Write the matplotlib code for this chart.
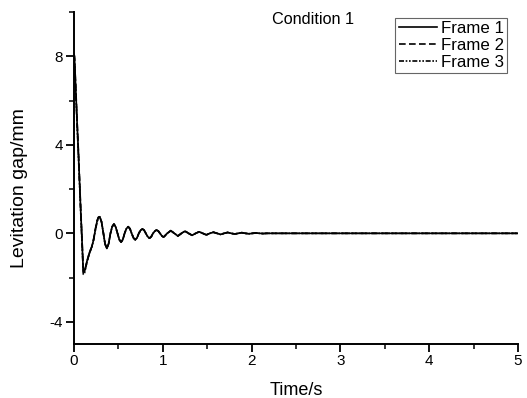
import numpy as np
import matplotlib.pyplot as plt

plt.rcParams['font.family'] = ['Liberation Sans', 'DejaVu Sans']
plt.rcParams['axes.unicode_minus'] = False

# early transient (drop and first rise) for each frame
t_early = [0.0, 0.005, 0.02, 0.035, 0.05, 0.065, 0.075, 0.09, 0.105, 0.12, 0.14,
           0.16, 0.18, 0.20, 0.22, 0.24, 0.26, 0.275]
y1_early = [8.1, 8.0, 6.5, 5.0, 3.6, 2.1, 1.1, -0.3, -1.75, -1.7, -1.35,
            -1.05, -0.8, -0.62, -0.3, 0.15, 0.55, 0.72]
y2_early = [8.1, 8.0, 6.6, 5.1, 3.7, 2.2, 1.2, -0.2, -1.7, -1.72, -1.4,
            -1.1, -0.82, -0.6, -0.28, 0.18, 0.57, 0.73]
y3_early = [8.0, 7.9, 6.4, 4.9, 3.5, 2.0, 1.0, -0.4, -1.85, -1.78, -1.4,
            -1.08, -0.84, -0.64, -0.32, 0.12, 0.52, 0.70]

# decaying oscillation, shared by the three frames
t_tail = [0.29, 0.31, 0.33, 0.35, 0.37, 0.39, 0.41, 0.43, 0.45, 0.47, 0.49, 0.51,
          0.53, 0.55, 0.57, 0.59, 0.61, 0.63, 0.65, 0.67, 0.69, 0.71, 0.73, 0.75,
          0.77, 0.79, 0.81, 0.83, 0.85, 0.87, 0.89, 0.91, 0.93, 0.95, 0.97, 0.99,
          1.01, 1.05, 1.09, 1.13, 1.17, 1.21, 1.25, 1.29, 1.33, 1.37, 1.41, 1.45,
          1.49, 1.53, 1.57, 1.61, 1.65, 1.69, 1.73, 1.77, 1.81, 1.85, 1.89, 1.93,
          1.97, 2.01, 2.05, 2.09, 2.13, 2.17, 2.5, 3.0, 3.12, 4.0, 5.0]
y_tail = [0.75, 0.52, 0.03, -0.48, -0.68, -0.47, -0.01, 0.30, 0.42, 0.28, 0.0, -0.28,
          -0.40, -0.28, 0.0, 0.21, 0.30, 0.21, -0.01, -0.21, -0.29, -0.20, 0.0, 0.14,
          0.20, 0.14, -0.01, -0.15, -0.22, -0.15, 0.0, 0.10, 0.15, 0.10, -0.01, -0.12,
          -0.17, 0.0, 0.12, 0.0, -0.12, 0.0, 0.10, 0.0, -0.09, 0.0, 0.07, 0.0,
          -0.07, 0.0, 0.05, 0.0, -0.05, 0.0, 0.04, 0.0, -0.03, 0.0, 0.03, 0.0,
          -0.02, 0.0, 0.015, 0.0, -0.01, 0.0, 0.0, 0.0, 0.0, 0.0, 0.0]

t = t_early + t_tail
frames = {
    'Frame 1': (y1_early + y_tail, '-'),
    'Frame 2': (y2_early + y_tail, (0, (4, 2))),
    'Frame 3': (y3_early + y_tail, (0, (3, 1, 1, 1, 1, 1))),
}

fig = plt.figure(figsize=(5.27, 3.98), dpi=100)
ax = fig.add_axes([0.1404, 0.1357, 0.8426, 0.8341])

for name, (y, ls) in frames.items():
    ax.plot(t, y, color='black', linestyle=ls, linewidth=1.2, label=name)

ax.set_xlim(0, 5)
ax.set_ylim(-5, 10)
ax.set_xticks([0, 1, 2, 3, 4, 5])
ax.set_xticks(np.arange(0, 5.01, 0.5), minor=True)
ax.set_yticks([-4, 0, 4, 8])
ax.set_yticks([-4, -2, 0, 2, 4, 6, 8, 10], minor=True)

for s in ['top', 'right']:
    ax.spines[s].set_visible(False)
for s in ['left', 'bottom']:
    ax.spines[s].set_linewidth(1.4)

ax.tick_params(which='major', direction='out', length=6, width=1.3, labelsize=11)
ax.tick_params(axis='y', which='major', pad=2)
ax.tick_params(axis='x', which='major', pad=1.5)
ax.tick_params(which='minor', direction='out', length=3.5, width=1.1)

ax.set_xlabel('Time/s', fontsize=13)
ax.set_ylabel('Levitation gap/mm', fontsize=14)
ax.xaxis.set_label_coords(0.5, -0.115)
ax.yaxis.set_label_coords(-0.103, 0.47)

ax.text(2.69, 9.64, 'Condition 1', ha='center', va='center', fontsize=11.7)

leg = ax.legend(loc='upper right', bbox_to_anchor=(0.976, 0.982), fontsize=12.2,
                handlelength=2.3, handletextpad=0.2, labelspacing=0.1,
                borderpad=0.2, borderaxespad=0, fancybox=False, framealpha=1)
leg.get_frame().set_edgecolor('#666666')
leg.get_frame().set_linewidth(0.8)

fig.savefig('out.png', dpi=100)
